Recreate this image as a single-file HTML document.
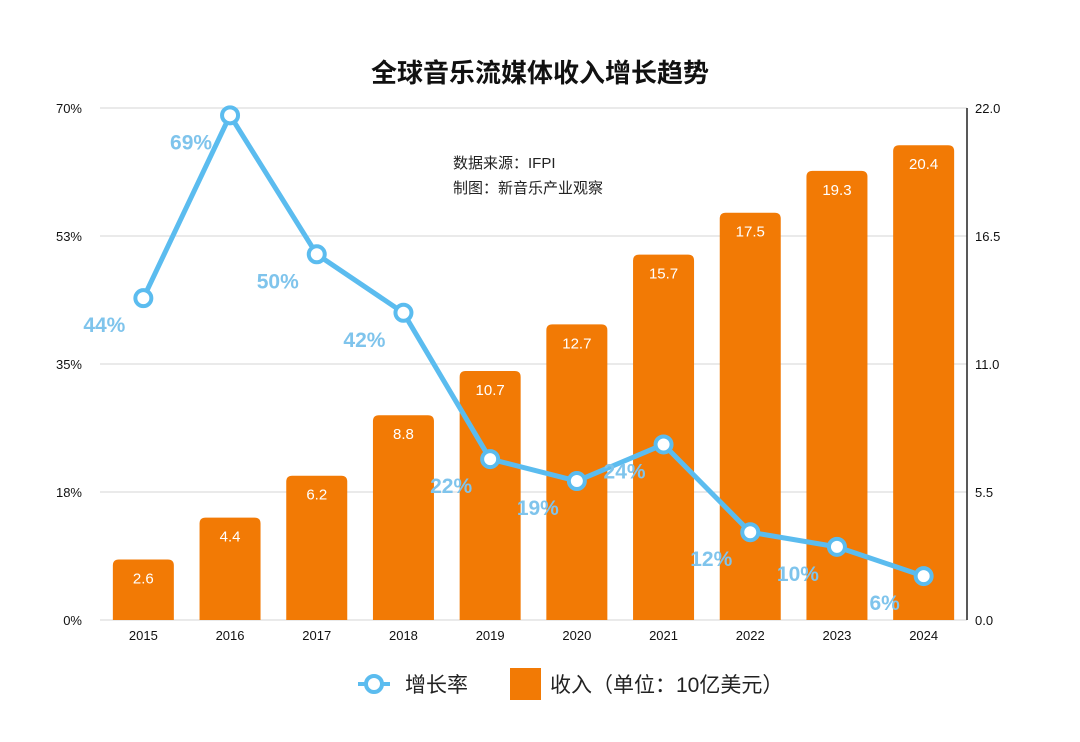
<!DOCTYPE html>
<html><head><meta charset="utf-8"><style>
body{margin:0;background:#fff;}
svg text{font-family:"Liberation Sans","Noto Sans CJK SC",sans-serif;}
</style></head><body>
<svg width="1080" height="737" viewBox="0 0 1080 737">
<rect width="1080" height="737" fill="#fff"/>
<text x="540" y="82" text-anchor="middle" font-size="26" font-weight="bold" fill="#111">全球音乐流媒体收入增长趋势</text>
<g id="grid"></g><g id="bars"></g><g id="line"></g>
<text x="453" y="168" font-size="15" fill="#222">数据来源：IFPI</text>
<text x="453" y="193" font-size="15" fill="#222">制图：新音乐产业观察</text>
<g>
<circle cx="374" cy="684" r="8" fill="#fff" stroke="#5bbcef" stroke-width="4"/>
<line x1="358" y1="684" x2="366" y2="684" stroke="#5bbcef" stroke-width="4"/>
<line x1="382" y1="684" x2="390" y2="684" stroke="#5bbcef" stroke-width="4"/>
<text x="405" y="692" font-size="21" fill="#222">增长率</text>
<rect x="510" y="668" width="31" height="32" fill="#f27a05"/>
<text x="550" y="692" font-size="21" fill="#222">收入（单位：10亿美元）</text>
</g>
</svg>
<script>
const years=["2015","2016","2017","2018","2019","2020","2021","2022","2023","2024"];
const revenue=[2.6,4.4,6.2,8.8,10.7,12.7,15.7,17.5,19.3,20.4];
const growth=[44,69,50,42,22,19,24,12,10,6];
const leftTicks=[0,17.5,35,52.5,70];
const leftTickLabels=["0%","18%","35%","53%","70%"];
const rightTicks=[0,5.5,11,16.5,22];
const rightTickLabels=["0.0","5.5","11.0","16.5","22.0"];
const NS="http://www.w3.org/2000/svg";
const X0=100,X1=967,Y0=620,Y1=108;
const band=(X1-X0)/years.length;
const xc=i=>X0+band*(i+0.5);
const yL=v=>Y0-v/70*(Y0-Y1);
const yR=v=>Y0-v/22*(Y0-Y1);
function mk(tag,attrs,parent,txt){const e=document.createElementNS(NS,tag);for(const k in attrs)e.setAttribute(k,attrs[k]);if(txt!==undefined)e.textContent=txt;parent.appendChild(e);return e;}
const grid=document.getElementById('grid'),bars=document.getElementById('bars'),line=document.getElementById('line');
leftTicks.forEach((t,i)=>{
 const l=mk('line',{x1:X0,x2:X1,y1:yL(t),y2:yL(t),stroke:'#d4d4d4','stroke-width':1},grid);
 
 
 const tx=mk('text',{x:82,y:yL(t)+5,'text-anchor':'end','font-size':13,fill:'#111'},grid,leftTickLabels[i]);
 
 
});
rightTicks.forEach((t,i)=>{
 const tx=mk('text',{x:975,y:yR(t)+5,'font-size':13,fill:'#111'},grid,rightTickLabels[i]);
 
 
});
const ax=mk('line',{x1:X1,x2:X1,y1:Y1,y2:Y0,stroke:'#222','stroke-width':1.5},grid);


const bw=61,r=6;
revenue.forEach((v,i)=>{
 const x=xc(i)-bw/2,y=yR(v),h=Y0-y;
 const p=mk('path',{d:`M${x},${Y0}V${y+r}Q${x},${y} ${x+r},${y}H${x+bw-r}Q${x+bw},${y} ${x+bw},${y+r}V${Y0}Z`,fill:'#f27a05'},bars);
 
 
 const t=mk('text',{x:xc(i),y:y+24,'text-anchor':'middle','font-size':15,fill:'#fff'},bars,v.toFixed(1));
 
 
 const yl=mk('text',{x:xc(i),y:Y0+20,'text-anchor':'middle','font-size':13,fill:'#111'},bars,years[i]);
 
 
});
const pts=growth.map((g,i)=>xc(i)+','+yL(g)).join(' ');
const pl=mk('polyline',{points:pts,fill:'none',stroke:'#5bbcef','stroke-width':5,'stroke-linejoin':'round'},line);


growth.forEach((g,i)=>{
 const c=mk('circle',{cx:xc(i),cy:yL(g),r:8,fill:'#fff',stroke:'#5bbcef','stroke-width':4},line);
 
 
 const t=mk('text',{x:xc(i)-39,y:yL(g)+34,'text-anchor':'middle','font-size':21,'font-weight':'bold',fill:'#7fc4ec'},line,g+'%');
 
 
});
</script>
</body></html>
